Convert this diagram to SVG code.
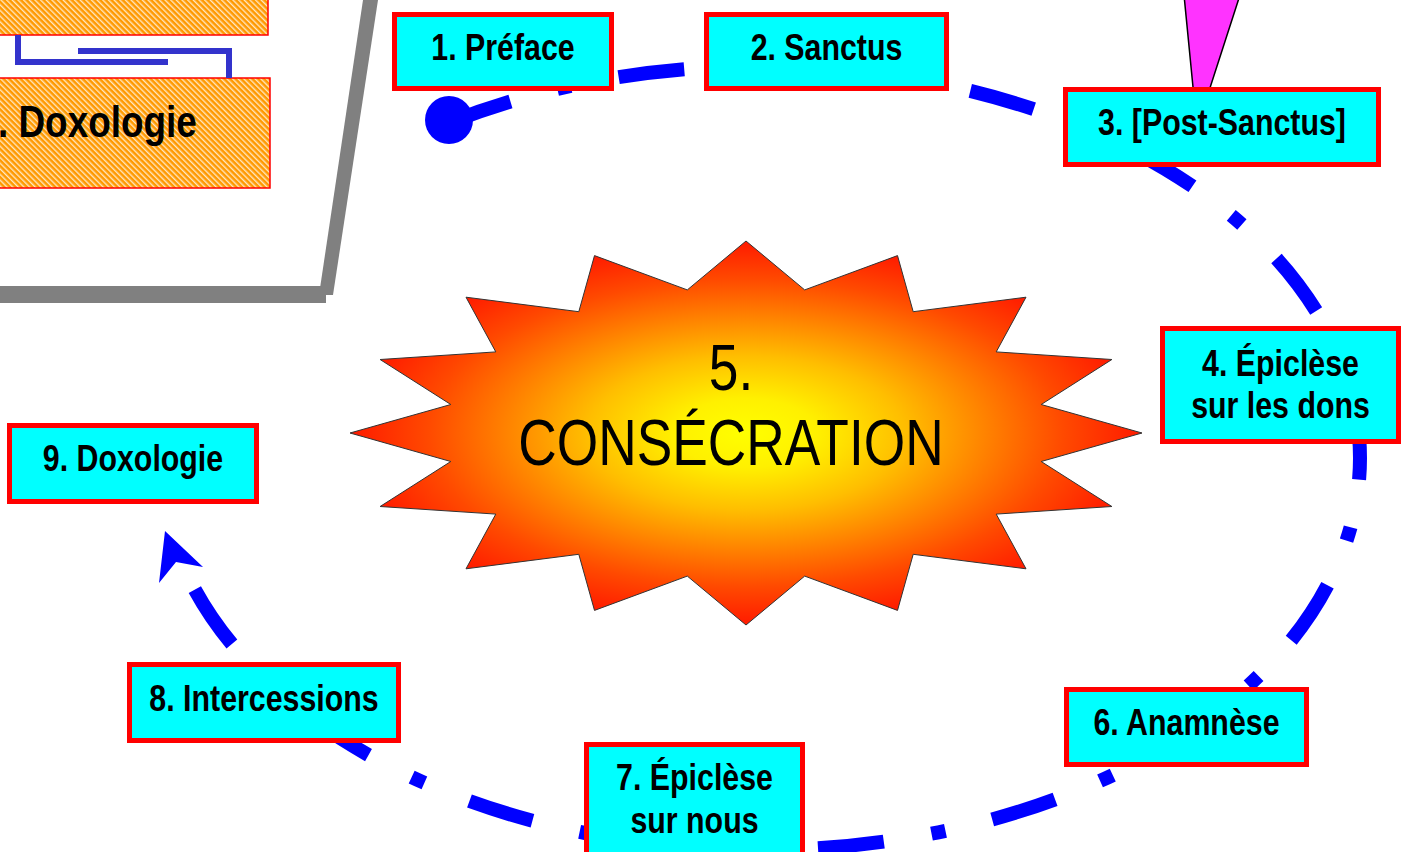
<svg xmlns="http://www.w3.org/2000/svg" width="1410" height="852" viewBox="0 0 1410 852">
  <style>
    .box { fill: #00FFFF; stroke: #FF0000; stroke-width: 5; }
    .lbl { font-family: "Liberation Sans Narrow", "Liberation Sans", "Arial", sans-serif; font-weight: bold; font-size: 37px; fill: #000000; text-anchor: middle; }
    .big { font-family: "Liberation Sans Narrow", "Liberation Sans", "Arial", sans-serif; font-size: 65px; fill: #000000; text-anchor: middle; }
    .thumbbox { fill: url(#hatch); stroke: #FF0000; stroke-width: 1.5; }
    .thumbline { fill: none; stroke: #3333CC; stroke-width: 6; }
    .flow { fill: none; stroke: #0000FF; stroke-width: 14; stroke-dasharray: 66 48.5 14 48.5; stroke-dashoffset: 3; stroke-linecap: butt; }
  </style>
  <defs>
    <pattern id="hatch" width="4" height="4" patternUnits="userSpaceOnUse" patternTransform="rotate(-45)">
      <rect width="4" height="4" fill="#FF9900"/>
      <rect width="1.4" height="4" fill="#FFE6C0"/>
    </pattern>
    <radialGradient id="burst" gradientUnits="userSpaceOnUse" cx="746" cy="433" r="396" gradientTransform="translate(746 433) scale(1 0.485) translate(-746 -433)">
      <stop offset="0" stop-color="#FFFF00"/>
      <stop offset="0.18" stop-color="#FFF000"/>
      <stop offset="0.4" stop-color="#FFBE00"/>
      <stop offset="0.6" stop-color="#FF8400"/>
      <stop offset="0.8" stop-color="#FF4A00"/>
      <stop offset="1" stop-color="#FF1A00"/>
    </radialGradient>
  </defs>

  <!-- thumbnail of previous slide -->
  <g id="thumbnail">
    <rect class="thumbbox" x="-5" y="-5" width="273" height="40"/>
    <rect class="thumbbox" x="-5" y="78" width="275" height="110"/>
    <text transform="translate(-2 137) scale(0.82 1)" x="0" y="0" font-family="'Liberation Sans Narrow', 'Liberation Sans', Arial, sans-serif" font-weight="bold" font-size="45" fill="#000000">. Doxologie</text>
    <polyline class="thumbline" points="18,35 18,62 168,62"/>
    <polyline class="thumbline" points="78,51 229,51 229,78"/>
    <rect x="0" y="286" width="326" height="17" fill="#808080"/>
    <polygon points="319,295 333,295 378,0 363,0" fill="#808080"/>
  </g>

  <!-- magenta callout -->
  <g id="callout">
    <polygon points="1184,-5 1240,-5 1197,128" fill="#FF33FF" stroke="#000000" stroke-width="1.5"/>
  </g>

  <!-- central burst -->
  <g id="node5">
    <polygon fill="url(#burst)" stroke="#333333" stroke-width="1" points="746,241 804.7,289.9 897.5,255.6 913.2,311.7 1026,297.2 996.2,351.9 1111.9,359.5 1041.2,404.5 1142,433 1041.2,461.5 1111.9,506.5 996.2,514.1 1026,568.8 913.2,554.3 897.5,610.4 804.7,576.1 746,625 687.3,576.1 594.5,610.4 578.8,554.3 466,568.8 495.8,514.1 380.1,506.5 450.8,461.5 350,433 450.8,404.5 380.1,359.5 495.8,351.9 466,297.2 578.8,311.7 594.5,255.6 687.3,289.9"/>
    <text class="big" transform="translate(731 390) scale(0.82 1)" x="0" y="0">5.</text>
    <text class="big" transform="translate(731 465) scale(0.82 1)" x="0" y="0">CONSÉCRATION</text>
  </g>

  <!-- connectors -->
  <g id="connectors">
    <circle cx="449" cy="120" r="24" fill="#0000FF"/>
    <path class="flow" d="M451,122 A600,392 0 1 1 186.2,572.6"/>
    <polygon points="165,531 203,567 176,562 159,583" fill="#0000FF"/>
  </g>

  <g id="node1">
    <rect class="box" x="394.5" y="14.5" width="217" height="74"/>
    <text class="lbl" transform="translate(503 59.5) scale(0.82 1)" x="0" y="0">1. Préface</text>
  </g>
  <g id="node2">
    <rect class="box" x="706.5" y="14.5" width="240" height="74"/>
    <text class="lbl" transform="translate(826.5 59.5) scale(0.82 1)" x="0" y="0">2. Sanctus</text>
  </g>
  <g id="node3">
    <rect class="box" x="1065.5" y="89.5" width="313" height="75"/>
    <text class="lbl" transform="translate(1222 135) scale(0.82 1)" x="0" y="0">3. [Post-Sanctus]</text>
  </g>
  <g id="node4">
    <rect class="box" x="1162.5" y="328.5" width="236" height="113"/>
    <text class="lbl" transform="translate(1280.5 376) scale(0.82 1)" x="0" y="0">4. Épiclèse</text>
    <text class="lbl" transform="translate(1280.5 418) scale(0.82 1)" x="0" y="0">sur les dons</text>
  </g>
  <g id="node6">
    <rect class="box" x="1066.5" y="689.5" width="240" height="75"/>
    <text class="lbl" transform="translate(1186.5 735) scale(0.82 1)" x="0" y="0">6. Anamnèse</text>
  </g>
  <g id="node7">
    <rect class="box" x="586.5" y="744.5" width="216" height="130"/>
    <text class="lbl" transform="translate(694.5 790) scale(0.82 1)" x="0" y="0">7. Épiclèse</text>
    <text class="lbl" transform="translate(694.5 833) scale(0.82 1)" x="0" y="0">sur nous</text>
  </g>
  <g id="node8">
    <rect class="box" x="129.5" y="664.5" width="269" height="76"/>
    <text class="lbl" transform="translate(264 711) scale(0.82 1)" x="0" y="0">8. Intercessions</text>
  </g>
  <g id="node9">
    <rect class="box" x="9.5" y="425.5" width="247" height="76"/>
    <text class="lbl" transform="translate(133 471) scale(0.82 1)" x="0" y="0">9. Doxologie</text>
  </g>
</svg>
